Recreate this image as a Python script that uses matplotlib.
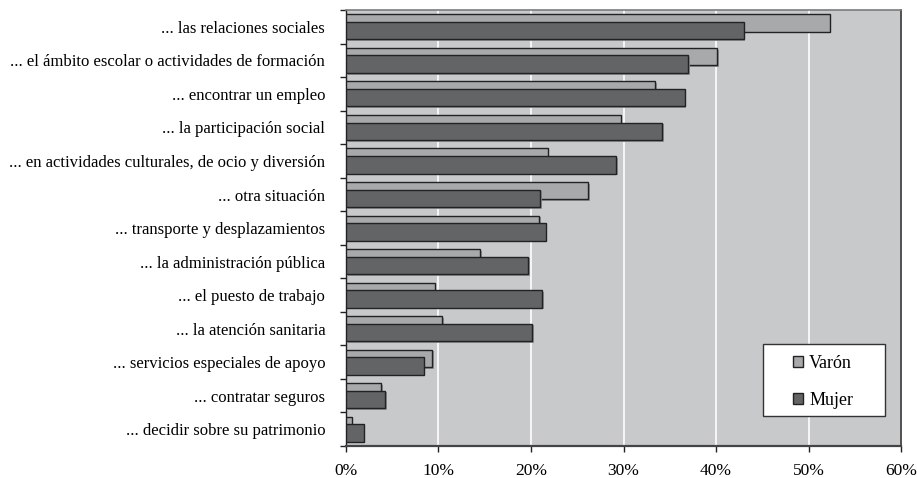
import numpy as np
import matplotlib.pyplot as plt
import matplotlib.patheffects as pe
from matplotlib.patches import Rectangle
from matplotlib.ticker import FixedLocator, PercentFormatter

plt.rcParams['font.family'] = ['Liberation Serif', 'DejaVu Serif']

categorias = [
    "... las relaciones sociales",
    "... el ámbito escolar o actividades de formación",
    "... encontrar un empleo",
    "... la participación social",
    "... en actividades culturales, de ocio y diversión",
    "... otra situación",
    "... transporte y desplazamientos",
    "... la administración pública",
    "... el puesto de trabajo",
    "... la atención sanitaria",
    "... servicios especiales de apoyo",
    "... contratar seguros",
    "... decidir sobre su patrimonio",
]
varon = [52.3, 40.1, 33.4, 29.7, 21.8, 26.2, 20.9, 14.5, 9.6, 10.4, 9.3, 3.8, 0.6]
mujer = [43.0, 37.0, 36.6, 34.2, 29.2, 21.0, 21.6, 19.7, 21.2, 20.1, 8.4, 4.2, 1.9]

fig = plt.figure(figsize=(9.17, 4.78), dpi=100)
ax = fig.add_axes([0.3773, 0.0669, 0.6053, 0.912])
ax.set_facecolor("#c8c9cb")

y = np.arange(len(categorias))
alto = 0.52
sombra = [pe.SimplePatchShadow(offset=(1.2, -1.2), shadow_rgbFace="#8a8b8d", alpha=0.9), pe.Normal()]

b1 = ax.barh(y - 0.114, varon, height=alto, color="#a8a9ab", edgecolor="#222222", linewidth=1.0,
             label="Varón", zorder=3)
b2 = ax.barh(y + 0.114, mujer, height=alto, color="#636466", edgecolor="#222222", linewidth=1.0,
             label="Mujer", zorder=4)
for b in list(b1) + list(b2):
    b.set_path_effects(sombra)

ax.set_ylim(len(categorias) - 0.5, -0.5)
ax.set_xlim(0, 60)
ax.xaxis.set_major_locator(FixedLocator(np.arange(0, 61, 10)))
ax.xaxis.set_major_formatter(PercentFormatter(decimals=0))
ax.grid(axis="x", color="white", linewidth=1.2, zorder=0)
ax.set_axisbelow(True)

ax.set_yticks(y)
ax.set_yticklabels(categorias, fontsize=12)
ax.tick_params(axis="y", length=0, pad=15)
ax.set_yticks(np.arange(-0.5, len(categorias), 1), minor=True)
ax.tick_params(axis="y", which="minor", length=4, width=1, color="#222222", direction="out")
ax.tick_params(axis="x", length=4, width=1, color="#222222", labelsize=12.5, pad=8)

ax.spines["top"].set_color("#7a7b7d")
ax.spines["top"].set_linewidth(1.2)
ax.spines["right"].set_color("#333333")
ax.spines["right"].set_linewidth(1.2)
ax.spines["left"].set_color("#222222")
ax.spines["left"].set_linewidth(1.0)
ax.spines["bottom"].set_color("#444444")
ax.spines["bottom"].set_linewidth(1.6)

# caja blanca de la leyenda
ax.add_patch(Rectangle((0.751, 0.069), 0.22, 0.165, transform=ax.transAxes,
                       facecolor="white", edgecolor="#333333", linewidth=1.0, zorder=5))
leg = ax.legend(loc="center left", bbox_to_anchor=(0.805, 0.147), fontsize=13, frameon=False,
                handlelength=0.55, handleheight=0.55, labelspacing=1.1, borderpad=0,
                handletextpad=0.35, borderaxespad=0)
leg.set_zorder(6)
for h in leg.legend_handles:
    h.set_path_effects([])

fig.savefig("out.png", dpi=100)
